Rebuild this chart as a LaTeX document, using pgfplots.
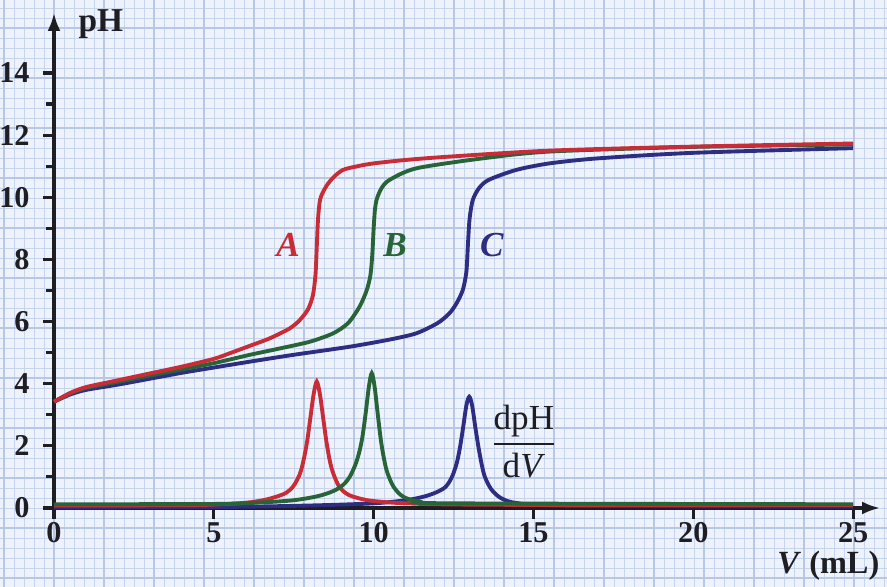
\documentclass[border=0pt]{standalone}
\usepackage{pgfplots}
\pgfplotsset{compat=1.18}
\usepackage{fontspec}
\setmainfont{Liberation Serif}
\usetikzlibrary{arrows.meta}
\definecolor{bgc}{rgb}{0.93,0.95,0.985}
\definecolor{gridc}{rgb}{0.78,0.83,0.93}
\definecolor{gridd}{rgb}{0.72,0.78,0.90}
\definecolor{colA}{RGB}{200,45,55}
\definecolor{colB}{RGB}{40,100,55}
\definecolor{colC}{RGB}{45,45,130}
\definecolor{axc}{RGB}{30,30,35}
\begin{document}
\begin{tikzpicture}
\useasboundingbox (0,0) rectangle (88.7mm,58.7mm);
\fill[bgc] (0,0) rectangle (88.7mm,58.7mm);
\begin{scope}[shift={(0.4mm,0.9mm)}]
\draw[gridc, line width=0.25pt, step=1mm] (-1mm,-1mm) grid (89mm,59mm);
\draw[gridd, line width=0.35pt, step=5mm] (-1mm,-1mm) grid (89mm,59mm);
\end{scope}
\begin{axis}[
  at={(5.4mm,7.9mm)}, anchor=south west,
  scale only axis, width=82.6mm, height=49.5mm,
  xmin=0, xmax=25.84, ymin=0, ymax=15.93,
  axis lines=left,
  axis line style={line width=0.9pt, draw=axc, shorten <=-0.9mm},
  x axis line style={-{Latex[length=1.8mm,width=1.3mm]}},
  y axis line style={-{Latex[length=1.8mm,width=1.3mm]}},
  xtick={0,5,...,25}, ytick={0,2,...,14}, minor ytick={1,3,...,13},
  tick align=outside, major tick length=1.1mm, minor tick length=0.8mm,
  tick style={line width=0.9pt, draw=axc},
  minor tick style={line width=0.9pt, draw=axc},
  /pgf/number format/assume math mode=true,
  ticklabel style={font=\bfseries\fontsize{8.6}{10}\selectfont, text=axc},
  xticklabel style={yshift=0.9mm},
  yticklabel style={xshift=-0.1mm},
  clip=false,
]
% derivative curves
\addplot[colC, line width=1.1pt, smooth, tension=0.5] coordinates {
(0,0.02) (5,0.03) (8,0.08) (10,0.15) (11,0.25) (11.55,0.36) (11.95,0.5)
(12.25,0.68) (12.45,1.0) (12.6,1.45) (12.7,1.95) (12.8,2.6) (12.9,3.3)
(12.99,3.58) (13.08,3.3) (13.18,2.6) (13.28,1.95) (13.38,1.4) (13.48,1.0)
(13.68,0.6) (13.98,0.32) (14.48,0.16) (16,0.07) (25,0.04)};
\addplot[colA, line width=1.1pt, smooth, tension=0.5] coordinates {
(0,0.08) (4,0.09) (5,0.11) (5.75,0.15) (6.25,0.2) (6.75,0.3) (7.25,0.48)
(7.5,0.72) (7.7,1.12) (7.82,1.6) (7.92,2.15) (8.02,2.9) (8.12,3.65)
(8.22,4.07) (8.32,3.65) (8.42,2.9) (8.52,2.15) (8.62,1.56) (8.72,1.16)
(8.92,0.69) (9.22,0.42) (9.75,0.26) (10.25,0.2) (10.8,0.16) (12,0.12) (15,0.1) (25,0.1)};
\addplot[colB, line width=1.1pt, smooth, tension=0.5] coordinates {
(0,0.12) (5,0.13) (6.5,0.18) (7.5,0.25) (8.25,0.38) (8.75,0.55) (9.05,0.75)
(9.25,1.0) (9.43,1.4) (9.55,1.8) (9.65,2.3) (9.75,3.05) (9.85,3.9)
(9.94,4.34) (10.03,3.9) (10.13,3.0) (10.23,2.15) (10.33,1.55) (10.43,1.13)
(10.63,0.67) (10.93,0.36) (11.43,0.21) (12.5,0.15) (25,0.12)};
% pH curves
\addplot[colC, line width=1.1pt, smooth, tension=0.45] coordinates {
(0,3.42) (0.5,3.65) (1,3.8) (2,3.97) (3,4.16) (4,4.35) (5,4.52) (6.13,4.71)
(7.5,4.93) (9.25,5.19) (10.5,5.42) (11.33,5.62) (12.0,5.95) (12.375,6.27)
(12.6,6.6) (12.79,7.02) (12.9,7.6) (12.95,8.5) (13.0,9.3) (13.1,9.91)
(13.3,10.3) (13.6,10.56) (14.46,10.88) (15.5,11.09) (17,11.25) (20,11.43) (25,11.58)};
\addplot[colB, line width=1.1pt, smooth, tension=0.45] coordinates {
(0,3.42) (0.5,3.68) (1,3.86) (2,4.06) (3,4.26) (4,4.46) (5,4.66) (6.13,4.93)
(7,5.12) (8,5.35) (8.73,5.62) (9.2,5.95) (9.56,6.48) (9.78,7.0) (9.9,7.5)
(9.96,8.2) (10.0,9.0) (10.04,9.6) (10.1,9.95) (10.25,10.3) (10.5,10.56)
(11.33,10.93) (13.4,11.25) (15.5,11.47) (20,11.62) (25,11.7)};
\addplot[colA, line width=1.1pt, smooth, tension=0.45] coordinates {
(0,3.42) (0.5,3.7) (1,3.89) (2,4.11) (3,4.33) (4,4.55) (5,4.8) (5.5,4.98)
(6.13,5.22) (6.75,5.46) (7.375,5.78) (7.69,6.05) (7.95,6.4) (8.1,6.85) (8.18,7.5)
(8.22,8.4) (8.26,9.3) (8.33,9.95) (8.52,10.36) (8.75,10.65) (9.04,10.88)
(9.5,11.0) (10,11.09) (11,11.2) (12.4,11.31) (15.5,11.5) (20,11.63) (25,11.73)};
% labels
\node[colA, font=\bfseries\itshape\fontsize{10}{12}\selectfont] at (axis cs:7.32,8.46) {A};
\node[colB, font=\bfseries\itshape\fontsize{10}{12}\selectfont] at (axis cs:10.67,8.46) {B};
\node[colC, font=\bfseries\itshape\fontsize{10}{12}\selectfont] at (axis cs:13.7,8.46) {C};
\node[axc, font=\fontsize{10}{12}\selectfont, anchor=west, inner sep=0pt] at (axis cs:13.6,2.15)
  {$\displaystyle\frac{\mbox{dpH}}{\mbox{d\textit{V}}}$};
\node[axc, font=\bfseries\fontsize{9.5}{11}\selectfont, anchor=base west, inner sep=0pt] at (axis cs:0.75,15.32) {pH};
\node[axc, font=\bfseries\fontsize{9.2}{11}\selectfont, anchor=base east, inner sep=0pt] at (axis cs:25.84,-2.12) {\textit{V} (mL)};
\end{axis}
\end{tikzpicture}
\end{document}
